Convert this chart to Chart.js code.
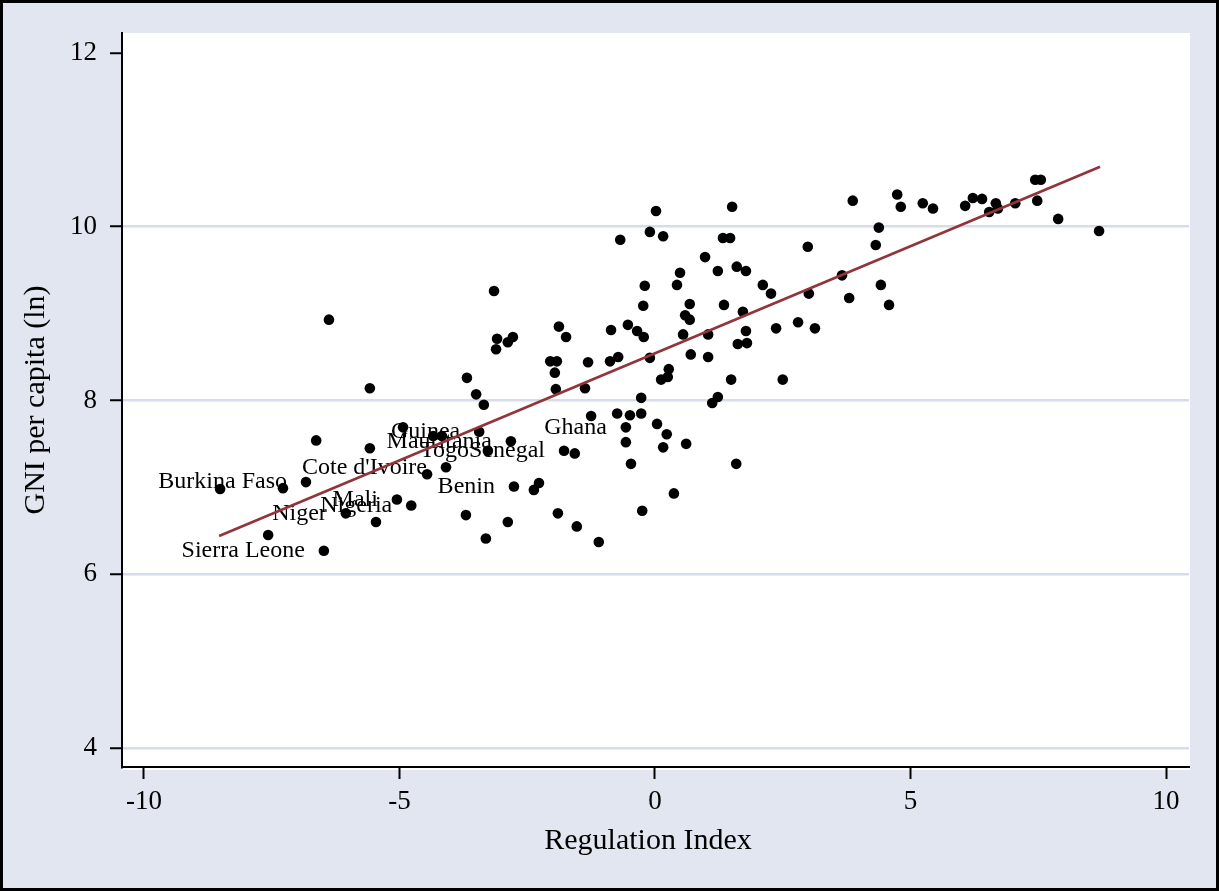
<!DOCTYPE html>
<html>
<head>
<meta charset="utf-8">
<script src="https://cdn.jsdelivr.net/npm/chart.js@4.4.1/dist/chart.umd.min.js"></script>
<style>
body { margin: 0; background: #e2e6f0; }
canvas { display: block; }
</style>
</head>
<body>
<canvas id="gniChart" width="1219" height="891"></canvas>
<script>
// regulation index vs log GNI per capita, one entry per country
let regIndex = [
  -8.51, -7.28, -6.83, -6.63, -7.57, -6.48, -6.38, -5.58, -5.58, -4.93,
  -4.46, -5.05, -4.77, -6.05, -5.46, -4.34, -4.17, -4.09, -3.44, -3.27,
  -2.82, -2.76, -2.37, -2.27, -3.70, -3.31, -2.88, -3.15, -3.09, -2.88,
  -2.78, -3.11, -3.68, -3.50, -3.35, -1.90, -1.53, -1.10, -1.88, -1.74,
  -2.05, -1.92, -1.96, -1.94, -1.37, -1.31, -0.86, -0.53, -0.35, -0.22,
  -0.88, -0.72, -0.10, -0.20, -0.23, 0.43, 0.49, 0.27, 0.25, 0.12,
  -0.27, -1.25, -0.74, -0.49, -0.27, 0.04, 0.23, 0.16, -0.57, -0.57,
  -0.47, -1.78, -1.57, 0.37, -0.25, 1.51, 0.16, 1.33, 1.47, 0.98,
  1.23, 1.60, 1.78, 2.11, 2.27, 2.99, 3.01, 3.66, 3.80, 3.87,
  4.38, 4.32, 4.42, 4.58, 4.74, 4.81, 5.24, 5.44, 0.68, 1.35,
  0.59, 0.68, 1.72, 1.04, 0.55, 1.78, 2.37, 2.80, 3.13, 1.62,
  1.80, 0.70, 1.04, 1.49, 2.50, 1.23, 1.12, 0.61, 1.59, 6.07,
  6.22, 6.40, 6.67, 6.54, 6.71, 7.05, 7.44, 7.55, 7.48, 7.89,
  8.69, -0.68, -0.10, 0.02
];
let gniLn = [
  6.98, 6.99, 7.06, 7.54, 6.45, 6.27, 8.93, 8.14, 7.45, 7.69,
  7.15, 6.86, 6.79, 6.70, 6.60, 7.59, 7.59, 7.23, 7.64, 7.42,
  7.53, 7.01, 6.97, 7.05, 6.68, 6.41, 6.60, 9.26, 8.71, 8.67,
  8.73, 8.59, 8.26, 8.07, 7.95, 6.70, 6.55, 6.37, 8.85, 8.73,
  8.45, 8.45, 8.32, 8.13, 8.14, 8.44, 8.81, 8.87, 8.80, 8.73,
  8.45, 8.50, 8.49, 9.32, 9.09, 9.33, 9.47, 8.36, 8.27, 8.24,
  8.03, 7.82, 7.85, 7.83, 7.85, 7.73, 7.61, 7.46, 7.69, 7.52,
  7.27, 7.42, 7.39, 6.93, 6.73, 10.23, 9.89, 9.87, 9.87, 9.65,
  9.49, 9.54, 9.49, 9.33, 9.23, 9.77, 9.23, 9.44, 9.18, 10.30,
  9.99, 9.79, 9.33, 9.10, 10.37, 10.23, 10.27, 10.21, 9.11, 9.10,
  8.98, 8.93, 9.02, 8.76, 8.76, 8.80, 8.83, 8.90, 8.83, 8.65,
  8.66, 8.53, 8.50, 8.24, 8.24, 8.04, 7.97, 7.50, 7.27, 10.24,
  10.33, 10.32, 10.27, 10.17, 10.21, 10.27, 10.54, 10.54, 10.30, 10.09,
  9.95, 9.85, 9.94, 10.18
];

// labelled countries
let labelNames = ["Burkina Faso", "Sierra Leone", "Niger", "Nigeria", "Mali",
  "Cote d'Ivoire", "Guinea", "Mauritania", "Togo", "Benin", "Senegal", "Ghana"];
let labelX = [-6.83, -6.48, -6.05, -4.77, -5.05, -4.09, -3.44, -2.82, -3.27, -2.76, -1.78, -0.57];
let labelY = [7.06, 6.27, 6.70, 6.79, 6.86, 7.23, 7.64, 7.53, 7.42, 7.01, 7.42, 7.69];

// fitted line end points
let fitX = [-8.53, 8.71];
let fitY = [6.44, 10.69];

let xTicks = [-10, -5, 0, 5, 10];
let yTicks = [4, 6, 8, 10, 12];

let serif = "'Liberation Serif', 'Times New Roman', serif";

let points = regIndex.map((x, i) => ({ x: x, y: gniLn[i] }));
let fitLine = fitX.map((x, i) => ({ x: x, y: fitY[i] }));

let stataLook = {
  id: "stataLook",
  beforeDraw(chart) {
    let ctx = chart.ctx, a = chart.chartArea;
    ctx.save();
    ctx.fillStyle = "#e2e6f0";
    ctx.fillRect(0, 0, chart.width, chart.height);
    ctx.fillStyle = "#ffffff";
    ctx.fillRect(a.left, a.top, a.right - a.left + 1, a.bottom - a.top + 3);
    ctx.restore();
  },
  afterDatasetDraw(chart, args) {
    if (args.index !== 1) return;
    let ctx = chart.ctx;
    let xs = chart.scales.x, ys = chart.scales.y;
    ctx.save();
    ctx.fillStyle = "#000";
    ctx.font = "24px " + serif;
    ctx.textAlign = "right";
    ctx.textBaseline = "middle";
    labelNames.forEach((name, i) => {
      ctx.fillText(name, xs.getPixelForValue(labelX[i]) - 19, ys.getPixelForValue(labelY[i]));
    });
    ctx.restore();
  },
  afterDraw(chart) {
    let ctx = chart.ctx, a = chart.chartArea;
    ctx.save();
    ctx.fillStyle = "#000";
    ctx.font = "30px " + serif;
    ctx.textAlign = "center";
    ctx.textBaseline = "middle";
    ctx.fillText("Regulation Index", 648, 841);
    ctx.translate(36, (a.top + a.bottom) / 2);
    ctx.rotate(-Math.PI / 2);
    ctx.fillText("GNI per capita (ln)", 0, 0);
    ctx.restore();
    ctx.save();
    ctx.strokeStyle = "#000";
    ctx.lineWidth = 3;
    ctx.strokeRect(1.5, 1.5, chart.width - 3, chart.height - 3);
    ctx.restore();
  }
};

let ctx = document.getElementById("gniChart").getContext("2d");
let gniChart = new Chart(ctx, {
  type: "scatter",
  data: {
    datasets: [{
      type: "line",
      data: fitLine,
      borderColor: "#90353b",
      borderWidth: 2.6,
      pointRadius: 0,
      fill: false
    }, {
      data: points,
      backgroundColor: "#000",
      borderWidth: 0,
      pointRadius: 5.3
    }]
  },
  options: {
    responsive: false,
    animation: false,
    events: [],
    layout: { padding: { left: 0, top: 33, right: 30, bottom: 0 } },
    plugins: { legend: { display: false }, tooltip: { enabled: false } },
    scales: {
      x: {
        type: "linear",
        min: -10.43,
        max: 10.45,
        afterBuildTicks: s => { s.ticks = xTicks.map(v => ({ value: v })); },
        afterFit: s => { s.height = 124; },
        grid: { drawOnChartArea: false, drawTicks: true, tickLength: 12, tickWidth: 2, tickColor: "#000" },
        border: { display: true, color: "#000", width: 2 },
        ticks: { color: "#000", font: { family: serif, size: 27 }, padding: 7, maxRotation: 0 }
      },
      y: {
        type: "linear",
        min: 3.78,
        max: 12.23,
        afterBuildTicks: s => { s.ticks = yTicks.map(v => ({ value: v })); },
        afterFit: s => { s.width = 122; },
        grid: {
          color: c => (c.tick && c.tick.value === 12) ? "rgba(0,0,0,0)" : "#d6dce9",
          lineWidth: 2.5,
          drawTicks: true,
          tickLength: 12,
          tickWidth: 2,
          tickColor: "#000"
        },
        border: { display: true, color: "#000", width: 2 },
        ticks: { color: "#000", font: { family: serif, size: 27 }, padding: 13 }
      }
    }
  },
  plugins: [stataLook]
});
</script>
</body>
</html>
